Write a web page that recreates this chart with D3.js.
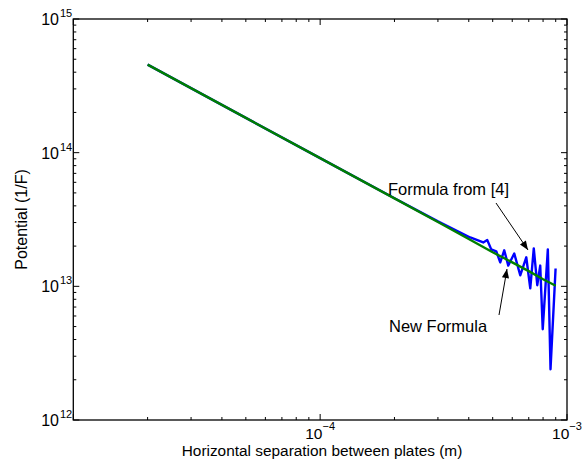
<!DOCTYPE html>
<html><head><meta charset="utf-8">
<script src="https://cdn.jsdelivr.net/npm/d3@7/dist/d3.min.js"></script>
<style>body{margin:0;background:#fff;} text{font-family:"Liberation Sans",Arial,sans-serif;}</style>
</head><body><svg id="c" width="584" height="461"></svg>
<script>
// Green series: "Formula from [4]" / smooth curve
const greenX = [2e-5, 5e-5, 1e-4, 2e-4, 3e-4, 4e-4, 5e-4, 6e-4, 7e-4, 8e-4, 9e-4];
const greenY = [4.56e14, 1.82e14, 9.1e13, 4.55e13, 3.03e13, 2.26e13, 1.80e13, 1.51e13, 1.30e13, 1.13e13, 1.01e13];
// Blue series: oscillating numerical values
const blueX = [2e-5, 5e-5, 1e-4, 2e-4, 3e-4, 4.055e-4, 4.578e-4, 4.752e-4, 4.932e-4, 5.168e-4, 5.365e-4, 5.568e-4, 5.782e-4, 6.114e-4, 6.465e-4, 6.839e-4, 7.099e-4, 7.335e-4, 7.579e-4, 7.79e-4, 7.974e-4, 8.363e-4, 8.575e-4, 8.99e-4];
const blueY = [4.56e14, 1.82e14, 9.1e13, 4.56e13, 3.06e13, 2.32e13, 2.13e13, 2.22e13, 1.89e13, 1.83e13, 1.51e13, 1.86e13, 1.43e13, 1.76e13, 1.21e13, 1.65e13, 9.66e12, 1.92e13, 1.02e13, 1.43e13, 4.78e12, 1.89e13, 2.40e12, 1.36e13];
const xMajor = [1e-5, 1e-4, 1e-3];
const yMajor = [1e12, 1e13, 1e14, 1e15];
const xLabels = ["", "\u22124", "\u22123"];
const yLabels = ["12", "13", "14", "15"];
const xTitle = "Horizontal separation between plates (m)";
const yTitle = "Potential (1/F)";
const annotations = [
  {text: "Formula from [4]", tx: 388, ty: 195, from: [496, 203], to: [528, 250]},
  {text: "New Formula", tx: 389, ty: 332, from: [499, 315], to: [507, 269]}
];

const L = 73.3, R = 567, T = 19, B = 420;
const svg = d3.select("#c");
const x = d3.scaleLog().domain([1e-5, 1e-3]).range([L, R]);
const y = d3.scaleLog().domain([1e12, 1e15]).range([B, T]);

svg.append("defs").append("marker").attr("id","ah").attr("viewBox","0 0 10 10")
  .attr("refX",10).attr("refY",5).attr("markerWidth",10).attr("markerHeight",9)
  .attr("orient","auto").attr("markerUnits","userSpaceOnUse")
  .append("path").attr("d","M0,1 L10,5 L0,9 Z").attr("fill","#000");

const g = svg.append("g");
const xMinor = [], yMinor = [];
for (let e = -5; e < -3; e++) for (let m = 2; m <= 9; m++) xMinor.push(m * Math.pow(10, e));
for (let e = 12; e < 15; e++) for (let m = 2; m <= 9; m++) yMinor.push(m * Math.pow(10, e));

const tk = g.append("g").attr("stroke","#000").attr("stroke-width",1);
xMinor.forEach(v => {
  tk.append("line").attr("x1",x(v)).attr("x2",x(v)).attr("y1",B).attr("y2",B-3);
  tk.append("line").attr("x1",x(v)).attr("x2",x(v)).attr("y1",T).attr("y2",T+3);
});
xMajor.forEach(v => {
  tk.append("line").attr("x1",x(v)).attr("x2",x(v)).attr("y1",B).attr("y2",B-6);
  tk.append("line").attr("x1",x(v)).attr("x2",x(v)).attr("y1",T).attr("y2",T+6);
});
yMinor.forEach(v => {
  tk.append("line").attr("x1",L).attr("x2",L+3).attr("y1",y(v)).attr("y2",y(v));
  tk.append("line").attr("x1",R).attr("x2",R-3).attr("y1",y(v)).attr("y2",y(v));
});
yMajor.forEach(v => {
  tk.append("line").attr("x1",L).attr("x2",L+6).attr("y1",y(v)).attr("y2",y(v));
  tk.append("line").attr("x1",R).attr("x2",R-6).attr("y1",y(v)).attr("y2",y(v));
});

const line = d3.line().x(d => x(d[0])).y(d => y(d[1]));
g.append("path").datum(blueX.map((v,i)=>[v, blueY[i]])).attr("d", line)
  .attr("fill","none").attr("stroke","#0000ff").attr("stroke-width",2.4).attr("stroke-linejoin","round");
g.append("path").datum(greenX.map((v,i)=>[v, greenY[i]])).attr("d", line)
  .attr("fill","none").attr("stroke","#007f00").attr("stroke-width",2.4).attr("stroke-linejoin","round");

g.append("rect").attr("x",L).attr("y",T).attr("width",R-L).attr("height",B-T)
  .attr("fill","none").attr("stroke","#000").attr("stroke-width",1.3);

xMajor.forEach((v,i) => {
  if (!xLabels[i]) return;
  const t = svg.append("text").attr("x", x(v)).attr("y", 439).attr("font-size",15.5).attr("text-anchor","middle");
  t.append("tspan").text("10");
  t.append("tspan").attr("dy",-9).attr("font-size",11).text(xLabels[i]);
});
yMajor.forEach((v,i) => {
  svg.append("text").attr("x", 59).attr("y", y(v)+6).attr("font-size",16).attr("text-anchor","end").text("10");
  svg.append("text").attr("x", 60).attr("y", y(v)-2).attr("font-size",11).attr("text-anchor","start").text(yLabels[i]);
});

svg.append("text").attr("x", 322).attr("y", 456).attr("font-size",15.4).attr("text-anchor","middle").text(xTitle);
svg.append("text").attr("transform",`translate(27,${(T+B)/2}) rotate(-90)`).attr("font-size",16).attr("text-anchor","middle").text(yTitle);

annotations.forEach(a => {
  svg.append("text").attr("x",a.tx).attr("y",a.ty).attr("font-size",16.5).text(a.text);
  svg.append("line").attr("x1",a.from[0]).attr("y1",a.from[1]).attr("x2",a.to[0]).attr("y2",a.to[1])
    .attr("stroke","#000").attr("stroke-width",1).attr("marker-end","url(#ah)");
});
</script></body></html>
